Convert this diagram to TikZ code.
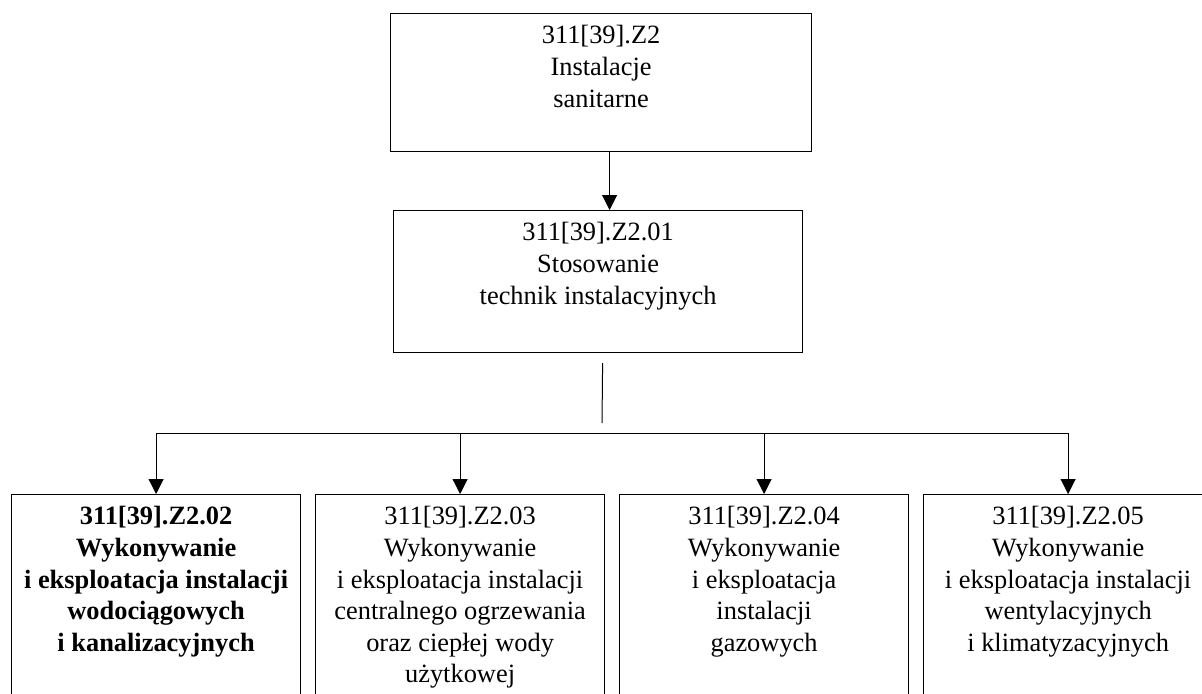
\documentclass[tikz,border=0pt]{standalone}
\usepackage{fontspec}
\setmainfont{Liberation Serif}
\usetikzlibrary{arrows.meta,positioning}

\newcommand{\cellbox}[3]{\parbox[c][#1][t]{#2}{\centering\vspace*{6pt}#3}}

\begin{document}
\begin{tikzpicture}[
  x=0.5pt, y=-0.5pt,
  node distance=6.9pt,
  font=\fontsize{13.2}{15.8}\selectfont,
  box/.style={draw, line width=0.6pt, inner sep=0pt, anchor=north west},
  arr/.style={-{Triangle[length=7.5pt, width=7.5pt]}, line width=0.5pt}
]
\useasboundingbox (0,0) rectangle (1202,693);
\clip (0,0) rectangle (1202,693);

\node[box] (top) at (390,13) {\cellbox{69pt}{210.5pt}{311[39].Z2\\Instalacje\\sanitarne}};
\node[box] (mid) at (393,210) {\cellbox{71pt}{204.5pt}{311[39].Z2.01\\Stosowanie\\technik instalacyjnych}};

\node[box] (b1) at (11,494) {\cellbox{150pt}{144.5pt}{\bfseries 311[39].Z2.02\\Wykonywanie\\i eksploatacja instalacji\\wodociągowych\\i kanalizacyjnych}};
\node[box, right=of b1.north east, anchor=north west] (b2) {\cellbox{150pt}{144.5pt}{311[39].Z2.03\\Wykonywanie\\i eksploatacja instalacji\\centralnego ogrzewania\\oraz ciepłej wody\\użytkowej}};
\node[box, right=of b2.north east, anchor=north west] (b3) {\cellbox{150pt}{144.5pt}{311[39].Z2.04\\Wykonywanie\\i eksploatacja\\instalacji\\gazowych}};
\node[box, right=of b3.north east, anchor=north west] (b4) {\cellbox{150pt}{144.5pt}{311[39].Z2.05\\Wykonywanie\\i eksploatacja instalacji\\wentylacyjnych\\i klimatyzacyjnych}};

% top -> mid
\draw[arr] ([xshift=4.25pt]top.south) -- ([xshift=4.25pt]top.south |- mid.north);

% stub under mid, then the bus
\coordinate (split) at (602,423);
\coordinate (bus) at (602,433);
\draw[line width=0.5pt] ([xshift=2.25pt, yshift=-5pt]mid.south) -- (split);
\draw[line width=0.5pt] (b1.north |- bus) -- (b4.north |- bus);
\foreach \b in {b1,b2,b3,b4}
  \draw[arr] (\b.north |- bus) -- (\b.north);
\end{tikzpicture}
\end{document}
